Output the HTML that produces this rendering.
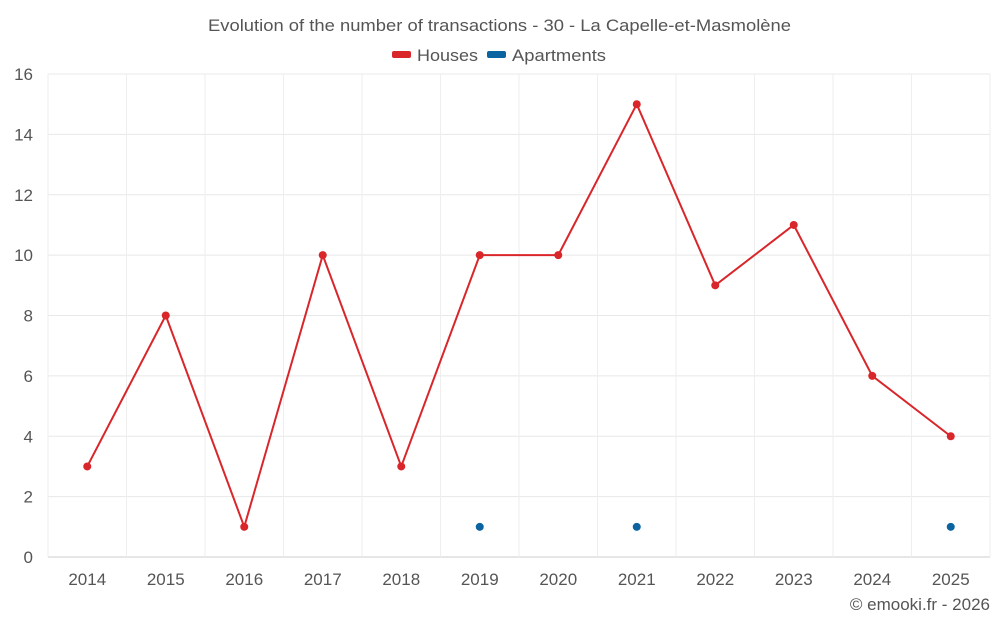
<!DOCTYPE html>
<html><head><meta charset="utf-8"><style>
body{margin:0;background:#fff;font-family:"Liberation Sans",sans-serif;}
svg text{font-family:"Liberation Sans",sans-serif;fill:#555;}
</style></head><body>
<svg id="chart" width="1000" height="625">
<text x="208" y="31" textLength="583" lengthAdjust="spacingAndGlyphs" font-size="17">Evolution of the number of transactions - 30 - La Capelle-et-Masmolène</text>
<g>
<g><rect x="392" y="51" width="19" height="7" rx="2" fill="#d9262a"/><text x="417" y="61" font-size="17" textLength="61" lengthAdjust="spacingAndGlyphs">Houses</text></g>
<g><rect x="487" y="51" width="19" height="7" rx="2" fill="#0b64a0"/><text x="512" y="61" font-size="17" textLength="94" lengthAdjust="spacingAndGlyphs">Apartments</text></g>
</g>
<g id="grid"></g><g id="axes"></g><g id="series"></g>
<text x="990" y="610" text-anchor="end" font-size="17">© emooki.fr - 2026</text>
</svg>
<script>
const categories=["2014","2015","2016","2017","2018","2019","2020","2021","2022","2023","2024","2025"];
const houses=[3,8,1,10,3,10,10,15,9,11,6,4];
const apartments=[null,null,null,null,null,1,null,1,null,null,null,1];
const yTicks=[0,2,4,6,8,10,12,14,16];
const L=48,R=990,T=74,B=557,yMax=16;
const bw=(R-L)/categories.length;
const x=i=>L+bw*(i+0.5);
const y=v=>B-(v/yMax)*(B-T);
const NS="http://www.w3.org/2000/svg";
function mk(tag,attrs,parent){const e=document.createElementNS(NS,tag);for(const k in attrs)e.setAttribute(k,attrs[k]);document.getElementById(parent).appendChild(e);return e;}
yTicks.forEach(t=>{
  const g=mk("line",{x1:L,x2:R,y1:y(t),y2:y(t),stroke:t===0?"#ccc":"#e8e8e8","stroke-width":1},"grid");
  
  
  const l=mk("text",{x:33,y:y(t)+6,"text-anchor":"end","font-size":17},"axes");l.textContent=t;
  
  
});
for(let i=0;i<=categories.length;i++){
  const g=mk("line",{x1:L+bw*i,x2:L+bw*i,y1:T,y2:B,stroke:"#eeeeee","stroke-width":1},"grid");
  
  
}
categories.forEach((c,i)=>{
  const l=mk("text",{x:x(i),y:585,"text-anchor":"middle","font-size":17},"axes");l.textContent=c;
  
  
});
const p=mk("polyline",{points:houses.map((v,i)=>x(i)+","+y(v)).join(" "),fill:"none",stroke:"#d9262a","stroke-width":2},"series");


houses.forEach((v,i)=>{
  const c=mk("circle",{cx:x(i),cy:y(v),r:4,fill:"#d9262a"},"series");
  
  
});
apartments.forEach((v,i)=>{
  if(v===null)return;
  const c=mk("circle",{cx:x(i),cy:y(v),r:4,fill:"#0b64a0"},"series");
  
  
});
</script>
</body></html>
